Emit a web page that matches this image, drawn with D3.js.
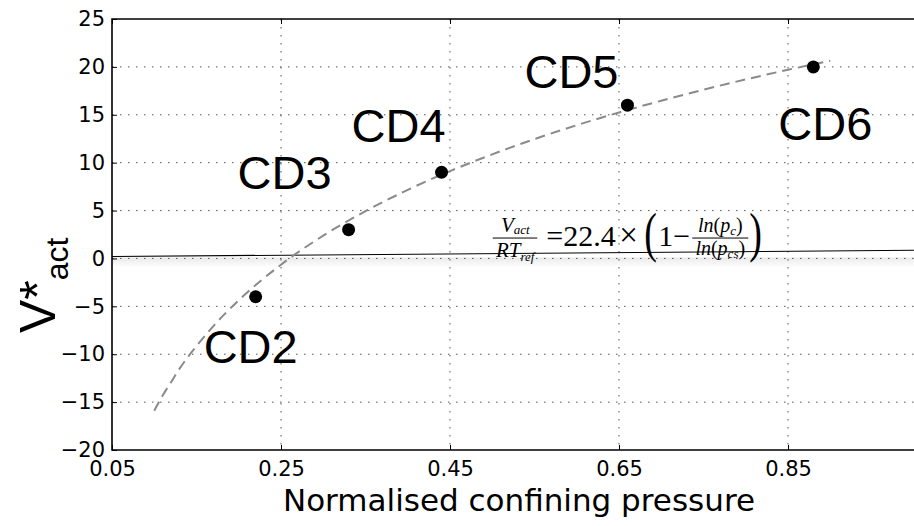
<!DOCTYPE html>
<html>
<head>
<meta charset="utf-8">
<script src="https://cdn.jsdelivr.net/npm/d3@7"></script>
<style>
  html, body { margin: 0; padding: 0; background: #fff; }
  svg { display: block; }
</style>
</head>
<body>
<svg id="chart" width="914" height="526"></svg>
<script>
// Measured specimens: normalised confining pressure vs. activation volume
const specimens = ["CD2", "CD3", "CD4", "CD5", "CD6"];
const pressure = [0.22, 0.33, 0.44, 0.66, 0.88];
const vAct = [-4, 3, 9, 16, 20];

// Fitted curve
const fitPressure = [0.10, 0.11, 0.12, 0.13, 0.15, 0.17, 0.20, 0.25, 0.30, 0.35, 0.40, 0.45, 0.50, 0.55, 0.60, 0.65, 0.70, 0.75, 0.80, 0.85, 0.90];
const fitV = [-15.9, -14.3, -12.9, -11.5, -9.15, -7.06, -4.36, -0.65, 2.38, 4.94, 7.16, 9.12, 10.87, 12.46, 13.91, 15.24, 16.47, 17.62, 18.69, 19.70, 20.65];

// Thin reference line near zero
const refLineX = [0.05, 1.0];
const refLineY = [0.2, 0.85];

// Axis ticks
const xTicks = [0.05, 0.25, 0.45, 0.65, 0.85];
const yTicks = [-20, -15, -10, -5, 0, 5, 10, 15, 20, 25];

const svg = d3.select("#chart");
const plotLeft = 112, plotRight = 914.75, plotTop = 19, plotBottom = 450;

const x = d3.scaleLinear().domain([0.05, 1.0]).range([plotLeft, plotRight]);
const y = d3.scaleLinear().domain([-20, 25]).range([plotBottom, plotTop]);

const fmtX = d3.format(".2f");
const fmtY = d => (d < 0 ? "\u2212" + Math.abs(d) : String(d));

// Soft shading under the zero line
const defs = svg.append("defs");
const grad = defs.append("linearGradient").attr("id", "shade")
  .attr("x1", 0).attr("y1", 0).attr("x2", 0).attr("y2", 1);
grad.append("stop").attr("offset", 0).attr("stop-color", "#e9e9e9");
grad.append("stop").attr("offset", 1).attr("stop-color", "#ffffff");
svg.append("rect")
  .attr("x", plotLeft).attr("y", y(0) - 1)
  .attr("width", plotRight - plotLeft).attr("height", 10)
  .attr("fill", "url(#shade)");

// Grid
const gridStyle = sel => sel.attr("stroke", "#555").attr("stroke-width", 1)
  .attr("stroke-dasharray", "1.5,6.5");
svg.append("g").selectAll("line").data(xTicks.slice(1)).join("line")
  .attr("x1", d => x(d)).attr("x2", d => x(d))
  .attr("y1", plotTop).attr("y2", plotBottom)
  .call(gridStyle);
svg.append("g").selectAll("line").data(yTicks.slice(1, -1)).join("line")
  .attr("x1", plotLeft).attr("x2", plotRight)
  .attr("y1", d => y(d)).attr("y2", d => y(d))
  .call(gridStyle);

// Axes with inward ticks
const tickFont = "'DejaVu Sans', sans-serif";
const xAxis = svg.append("g").attr("transform", `translate(0,${plotBottom})`)
  .call(d3.axisBottom(x).tickValues(xTicks).tickFormat(fmtX).tickSizeInner(-5).tickSizeOuter(0).tickPadding(11));
const xTop = svg.append("g").attr("transform", `translate(0,${plotTop})`)
  .call(d3.axisTop(x).tickValues(xTicks).tickFormat("").tickSizeInner(-5).tickSizeOuter(0));
const yAxis = svg.append("g").attr("transform", `translate(${plotLeft},0)`)
  .call(d3.axisLeft(y).tickValues(yTicks).tickFormat(fmtY).tickSizeInner(-5).tickSizeOuter(0).tickPadding(7));
[xAxis, xTop, yAxis].forEach(g => {
  g.select(".domain").remove();
  g.selectAll(".tick line").attr("stroke", "#000").attr("stroke-width", 1);
  g.selectAll("text").attr("font-family", tickFont).attr("font-size", 21).attr("fill", "#000");
});

// Spines
svg.append("path")
  .attr("d", `M${plotRight},${plotTop}H${plotLeft}V${plotBottom}H${plotRight}`)
  .attr("fill", "none").attr("stroke", "#000").attr("stroke-width", 1.6);

// Reference line
svg.append("line")
  .attr("x1", x(refLineX[0])).attr("y1", y(refLineY[0]))
  .attr("x2", x(refLineX[1])).attr("y2", y(refLineY[1]))
  .attr("stroke", "#000").attr("stroke-width", 1.1);

// Fitted curve
const fitLine = d3.line().x(d => x(d[0])).y(d => y(d[1])).curve(d3.curveMonotoneX);
svg.append("path")
  .datum(fitPressure.map((p, i) => [p, fitV[i]]))
  .attr("d", fitLine)
  .attr("fill", "none").attr("stroke", "#8a8a8a").attr("stroke-width", 2)
  .attr("stroke-dasharray", "10,6");

// Data points
svg.append("g").selectAll("circle").data(pressure).join("circle")
  .attr("cx", d => x(d)).attr("cy", (d, i) => y(vAct[i]))
  .attr("r", 6.5).attr("fill", "#000");

// Specimen labels, offset from their points
const labelOffsets = [[-52, 66], [-111, -41], [-90, -30], [-103, -17], [-35, 73]];
svg.append("g").selectAll("text").data(specimens).join("text")
  .attr("x", (d, i) => x(pressure[i]) + labelOffsets[i][0])
  .attr("y", (d, i) => y(vAct[i]) + labelOffsets[i][1])
  .attr("font-family", "'Liberation Sans', Arial, sans-serif")
  .attr("font-size", 47).attr("fill", "#000")
  .text(d => d);

// Formula annotation
const fx = x(0.5), fy = y(0);
const f = svg.append("g").attr("transform", `translate(${fx},${fy})`)
  .attr("font-family", "'Liberation Serif', 'Times New Roman', serif").attr("fill", "#000");
const num1 = f.append("text").attr("x", 23).attr("y", -26).attr("font-size", 21)
  .attr("font-style", "italic").attr("text-anchor", "middle");
num1.append("tspan").text("V");
num1.append("tspan").attr("font-size", 13).attr("dy", 1.5).text("act");
f.append("line").attr("x1", 0.5).attr("x2", 45).attr("y1", -20.4).attr("y2", -20.4).attr("stroke", "#000").attr("stroke-width", 1);
const den1 = f.append("text").attr("x", 23).attr("y", -1).attr("font-size", 21)
  .attr("font-style", "italic").attr("text-anchor", "middle");
den1.append("tspan").text("RT");
den1.append("tspan").attr("font-size", 13).attr("dy", 4).text("ref");
f.append("text").attr("x", 54).attr("y", -12.4).attr("font-size", 30).text("=22.4");
f.append("text").attr("x", 127).attr("y", -12.4).attr("font-size", 33).text("\u00d7");
// Tall delimiters: normal glyphs stretched vertically
f.append("text").attr("transform", "translate(152,-7) scale(1,1.45)").attr("font-size", 38).text("(");
f.append("text").attr("x", 166).attr("y", -12.4).attr("font-size", 30).text("1\u2212");
const num2 = f.append("text").attr("x", 228).attr("y", -26.5).attr("font-size", 20).attr("text-anchor", "middle");
num2.append("tspan").attr("font-style", "italic").text("ln");
num2.append("tspan").text("(");
num2.append("tspan").attr("font-style", "italic").text("p");
num2.append("tspan").attr("font-style", "italic").attr("font-size", 13).attr("dy", 3).text("c");
num2.append("tspan").attr("dy", -3).text(")");
f.append("line").attr("x1", 200).attr("x2", 256).attr("y1", -20.4).attr("y2", -20.4).attr("stroke", "#000").attr("stroke-width", 1);
const den2 = f.append("text").attr("x", 228).attr("y", -3).attr("font-size", 20).attr("text-anchor", "middle");
den2.append("tspan").attr("font-style", "italic").text("ln");
den2.append("tspan").text("(");
den2.append("tspan").attr("font-style", "italic").text("p");
den2.append("tspan").attr("font-style", "italic").attr("font-size", 13).attr("dy", 3).text("cs");
den2.append("tspan").attr("dy", -3).text(")");
f.append("text").attr("transform", "translate(257,-7) scale(1,1.45)").attr("font-size", 38).text(")");

// Axis titles
svg.append("text")
  .attr("x", 519).attr("y", 511)
  .attr("text-anchor", "middle")
  .attr("font-family", tickFont).attr("font-size", 31).attr("fill", "#000")
  .text("Normalised confining pressure");

const yl = svg.append("text")
  .attr("transform", "translate(55,333) rotate(-90)")
  .attr("font-family", "'Liberation Sans', Arial, sans-serif").attr("fill", "#000");
yl.append("tspan").attr("font-size", 50).text("V*");
yl.append("tspan").attr("font-size", 32).attr("dy", 13).text("act");
</script>
</body>
</html>
